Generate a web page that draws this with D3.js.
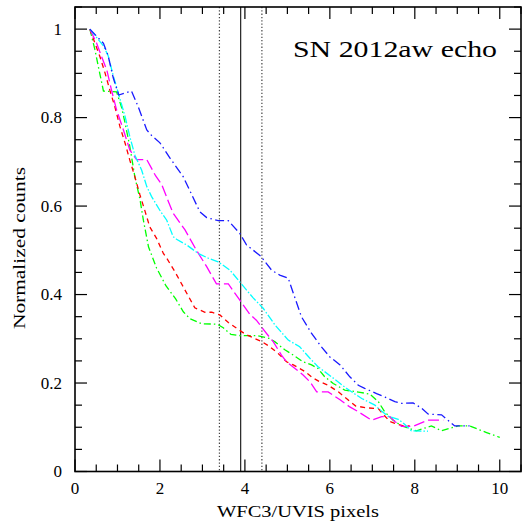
<!DOCTYPE html>
<html>
<head>
<meta charset="utf-8">
<script src="https://cdn.jsdelivr.net/npm/d3@7"></script>
<style>
  body { margin: 0; background: #fff; }
  text { font-family: "Liberation Serif", "DejaVu Serif", serif; fill: #000; }
</style>
</head>
<body>
<div id="chart"></div>
<script>
// radial profiles, [pixels, normalized counts]
const blueCurve = [[0.35,1.0],[0.67,0.968],[0.78,0.94],[0.9,0.89],[1.03,0.851],[1.33,0.86],[1.49,0.824],[1.69,0.772],[1.8,0.76],[2.0,0.743],[2.24,0.708],[2.55,0.666],[2.94,0.587],[3.1,0.574],[3.37,0.567],[3.61,0.567],[3.88,0.538],[4.04,0.512],[4.37,0.487],[4.63,0.455],[4.82,0.444],[5.02,0.437],[5.14,0.403],[5.33,0.35],[5.57,0.312],[5.8,0.282],[6.0,0.259],[6.24,0.241],[6.47,0.214],[6.67,0.195],[6.82,0.188],[7.1,0.176],[7.3,0.168],[7.53,0.158],[7.69,0.154],[7.96,0.155],[8.16,0.143],[8.31,0.13],[8.63,0.128],[8.78,0.116],[8.94,0.103],[9.29,0.103]];
const cyanCurve = [[0.35,1.0],[0.67,0.962],[0.78,0.94],[0.9,0.895],[1.02,0.855],[1.18,0.802],[1.29,0.757],[1.41,0.715],[1.57,0.681],[1.69,0.644],[1.8,0.622],[2.0,0.59],[2.16,0.568],[2.31,0.531],[2.39,0.525],[2.63,0.512],[2.9,0.493],[3.14,0.482],[3.37,0.474],[3.65,0.455],[3.84,0.433],[4.04,0.41],[4.2,0.392],[4.43,0.369],[4.71,0.331],[5.02,0.297],[5.29,0.282],[5.53,0.256],[5.72,0.237],[6.04,0.214],[6.39,0.188],[6.75,0.165],[7.06,0.15],[7.2,0.138],[7.37,0.125],[7.61,0.118],[7.76,0.107],[7.92,0.092],[8.31,0.091]];
const magentaCurve = [[0.35,1.0],[0.51,0.968],[0.63,0.937],[0.75,0.907],[0.86,0.862],[0.98,0.817],[1.14,0.772],[1.29,0.727],[1.45,0.705],[1.69,0.705],[1.9,0.668],[2.04,0.649],[2.2,0.61],[2.31,0.584],[2.59,0.546],[2.86,0.5],[3.1,0.463],[3.33,0.424],[3.61,0.424],[3.86,0.39],[4.12,0.355],[4.27,0.342],[4.51,0.312],[4.67,0.293],[4.86,0.263],[4.98,0.248],[5.18,0.233],[5.37,0.218],[5.53,0.203],[5.69,0.18],[5.96,0.18],[6.24,0.162],[6.47,0.146],[6.67,0.135],[6.98,0.116],[7.22,0.124],[7.41,0.124],[7.53,0.113],[7.69,0.102],[7.96,0.102],[8.3,0.116],[8.67,0.116]];
const redCurve = [[0.35,1.0],[0.47,0.968],[0.59,0.937],[0.71,0.9],[0.82,0.862],[0.94,0.824],[1.06,0.779],[1.18,0.742],[1.29,0.704],[1.41,0.666],[1.53,0.625],[1.65,0.588],[1.76,0.553],[1.92,0.527],[2.08,0.493],[2.16,0.482],[2.35,0.452],[2.59,0.41],[2.82,0.37],[3.06,0.36],[3.22,0.36],[3.41,0.354],[3.61,0.337],[3.86,0.32],[4.02,0.31],[4.2,0.302],[4.41,0.293],[4.59,0.282],[4.78,0.267],[4.98,0.248],[5.14,0.241],[5.41,0.226],[5.61,0.211],[5.76,0.203],[5.96,0.195],[6.2,0.18],[6.39,0.165],[6.61,0.148],[6.86,0.144],[7.14,0.142],[7.41,0.113],[7.53,0.109],[7.73,0.103],[7.88,0.103]];
const greenCurve = [[0.35,1.0],[0.47,0.953],[0.55,0.915],[0.67,0.86],[0.98,0.858],[1.1,0.822],[1.18,0.787],[1.29,0.735],[1.41,0.666],[1.53,0.615],[1.61,0.568],[1.73,0.508],[1.92,0.46],[2.14,0.42],[2.37,0.39],[2.55,0.361],[2.71,0.345],[2.98,0.334],[3.35,0.333],[3.49,0.325],[3.67,0.31],[3.9,0.307],[4.3,0.307],[4.57,0.301],[4.71,0.293],[4.94,0.275],[5.14,0.263],[5.37,0.248],[5.57,0.241],[5.72,0.233],[5.88,0.214],[6.08,0.199],[6.35,0.184],[6.71,0.179],[6.94,0.175],[7.14,0.158],[7.29,0.135],[7.49,0.116],[7.69,0.103],[8.04,0.092],[8.39,0.103],[8.63,0.092],[9.02,0.103],[9.29,0.103],[9.69,0.088],[10.0,0.077]];

// FWHM marker and +/- range
const markerCenter = 3.9;
const markerSides = [3.4, 4.4];

const xTicks = [0, 2, 4, 6, 8, 10];
const yTicks = [0, 0.2, 0.4, 0.6, 0.8, 1];
const yTickLabels = ["0", "0.2", "0.4", "0.6", "0.8", "1"];
const titleText = "SN 2012aw echo";
const xLabel = "WFC3/UVIS pixels";
const yLabel = "Normalized counts";

const W = 530, H = 527;
const pLeft = 75, pRight = 521, pTop = 7, pBottom = 471.5;

const x = d3.scaleLinear().domain([0, 10.5]).range([pLeft, pRight]);
const y = d3.scaleLinear().domain([0, 1.05]).range([pBottom, pTop]);

const svg = d3.select("#chart").append("svg")
    .attr("width", W)
    .attr("height", H);

// ticks on all four sides, inward
const xMinor = d3.range(0, 10.51, 0.5);
const yMinor = d3.range(0, 1.051, 0.05);
const isMajor = (v, step) => Math.abs(v / step - Math.round(v / step)) < 1e-6;

const tickG = svg.append("g").attr("stroke", "#000").attr("stroke-width", 1.2);
xMinor.forEach(v => {
    const len = isMajor(v, 2) ? 12 : 7;
    tickG.append("line").attr("x1", x(v)).attr("x2", x(v)).attr("y1", pBottom).attr("y2", pBottom - len);
    tickG.append("line").attr("x1", x(v)).attr("x2", x(v)).attr("y1", pTop).attr("y2", pTop + len);
});
yMinor.forEach(v => {
    const len = isMajor(v, 0.2) ? 12 : 7;
    tickG.append("line").attr("y1", y(v)).attr("y2", y(v)).attr("x1", pLeft).attr("x2", pLeft + len);
    tickG.append("line").attr("y1", y(v)).attr("y2", y(v)).attr("x1", pRight).attr("x2", pRight - len);
});

// tick labels
svg.append("g").selectAll("text")
    .data(xTicks)
    .join("text")
    .attr("x", d => x(d))
    .attr("y", 494)
    .attr("text-anchor", "middle")
    .style("font-size", "17px")
    .text(d => d);

svg.append("g").selectAll("text")
    .data(yTicks)
    .join("text")
    .attr("x", 62)
    .attr("y", d => y(d) + 5.5)
    .attr("text-anchor", "end")
    .style("font-size", "17px")
    .text((d, i) => yTickLabels[i]);

// vertical markers
svg.append("line")
    .attr("x1", x(markerCenter)).attr("x2", x(markerCenter))
    .attr("y1", pTop).attr("y2", pBottom)
    .attr("stroke", "#222").attr("stroke-width", 1.2);
markerSides.forEach(v => {
    svg.append("line")
        .attr("x1", x(v)).attr("x2", x(v))
        .attr("y1", pTop).attr("y2", pBottom)
        .attr("stroke", "#444").attr("stroke-width", 1.2)
        .attr("stroke-dasharray", "1.3,2");
});

// curves
const line = d3.line().x(d => x(d[0])).y(d => y(d[1]));
const curves = [
    { data: greenCurve, color: "#00ff00", dash: "7,3,1.5,3" },
    { data: redCurve, color: "#ff0000", dash: "5,4" },
    { data: magentaCurve, color: "#ff00ff", dash: "11,4" },
    { data: cyanCurve, color: "#00ffff", dash: "8,2,1.5,2" },
    { data: blueCurve, color: "#1a1aff", dash: "9,3.5,1.5,3.5" }
];
curves.forEach(c => {
    svg.append("path")
        .datum(c.data)
        .attr("d", line)
        .attr("fill", "none")
        .attr("stroke", c.color)
        .attr("stroke-width", 1.3)
        .attr("stroke-dasharray", c.dash);
});

// frame
svg.append("rect")
    .attr("x", pLeft).attr("y", pTop)
    .attr("width", pRight - pLeft).attr("height", pBottom - pTop)
    .attr("fill", "none")
    .attr("stroke", "#000")
    .attr("stroke-width", 1.6);

// labels
svg.append("text")
    .attr("x", 293).attr("y", 57)
    .attr("textLength", 204)
    .attr("lengthAdjust", "spacingAndGlyphs")
    .style("font-size", "23px")
    .text(titleText);

svg.append("text")
    .attr("x", (pLeft + pRight) / 2).attr("y", 517)
    .attr("text-anchor", "middle")
    .attr("textLength", 162)
    .attr("lengthAdjust", "spacingAndGlyphs")
    .style("font-size", "17px")
    .text(xLabel);

svg.append("text")
    .attr("transform", "translate(25,248) rotate(-90)")
    .attr("text-anchor", "middle")
    .attr("textLength", 162)
    .attr("lengthAdjust", "spacingAndGlyphs")
    .style("font-size", "17px")
    .text(yLabel);
</script>
</body>
</html>
